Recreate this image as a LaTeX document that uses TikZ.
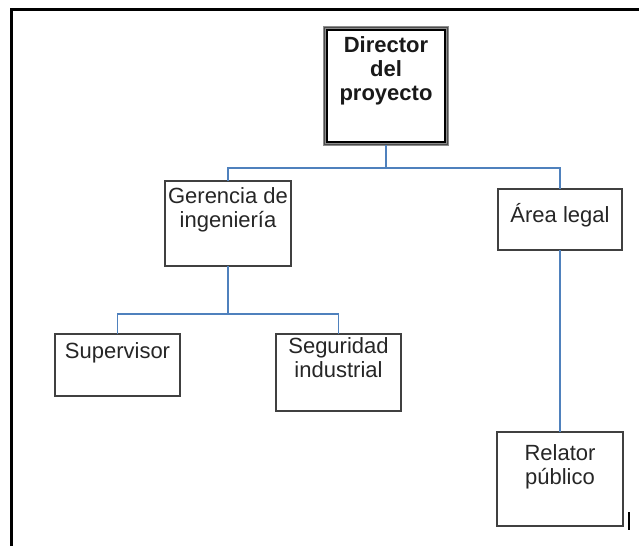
\documentclass[tikz,border=0pt]{standalone}
\usepackage{fontspec}
\setmainfont{Liberation Sans}
\definecolor{linkblue}{RGB}{79,129,189}
\definecolor{boxline}{RGB}{64,64,64}
% top-aligned text block: width, height, first baseline, text
\newcommand{\orgtext}[4]{\parbox[c][#2pt][t]{#1pt}{\centering\rule{0pt}{#3pt}#4}}
\begin{document}
\begin{tikzpicture}[x=1pt,y=-1pt,
  orgbox/.style={draw=boxline, line width=1.5pt, inner sep=0pt, outer sep=0pt,
    fill=white, text=black!85, font=\fontsize{22}{24.5}\selectfont},
  conn/.style={draw=linkblue, line width=1.4pt},
  frameline/.style={draw=black, line width=2.4pt}]
\useasboundingbox (0,0) rectangle (639,546);
\fill[white] (0,0) rectangle (639,546);

% page frame
\coordinate (fbl) at (11.5,546);
\coordinate (ftl) at (11.5,9.5);
\coordinate (ftr) at (639,9.5);
\draw[frameline] (fbl) -- (ftl) -- (ftr);

% boxes
\node[draw=black!45, line width=2.6pt, inner sep=0pt, outer sep=0pt, text=black!90,
  font=\fontsize{22}{24}\selectfont\bfseries] (dir) at (386,86)
  {\orgtext{123}{117}{25}{Director\\del\\proyecto}};
\draw[black!70, line width=0.8pt] (dir.north west) rectangle (dir.south east);
\draw[black, line width=1.3pt] ([shift={(2.4,2.4)}]dir.north west)
  rectangle ([shift={(-2.4,-2.4)}]dir.south east);

\node[orgbox] (ger) at (228,223.5) {\orgtext{126}{85}{22}{Gerencia de\\ingeniería}};
\node[orgbox] (leg) at (560,219.5) {\orgtext{124}{61}{33}{Área legal}};
\node[orgbox] (sup) at (117.5,365) {\orgtext{125}{62}{24}{Supervisor}};
\node[orgbox] (seg) at (338.5,372.5) {\orgtext{125}{77}{19}{Seguridad\\industrial}};
\node[orgbox] (rel) at (560,479) {\orgtext{126}{94}{28}{Relator\\público}};

% connectors
\coordinate (busA) at (386,168);
\coordinate (busB) at (228,314);
\draw[conn] (dir.south) -- (busA);
\draw[conn] (ger.north) |- (busA) -| (leg.north);
\draw[conn] (ger.south) -- (busB);
\draw[conn] (sup.north) |- (busB) -| (seg.north);
\draw[conn] (leg.south) -- (rel.north);

% cursor mark
\coordinate (tickT) at (629,512);
\coordinate (tickB) at (629,530);
\draw[black, line width=2pt] (tickT) -- (tickB);
\end{tikzpicture}
\end{document}
